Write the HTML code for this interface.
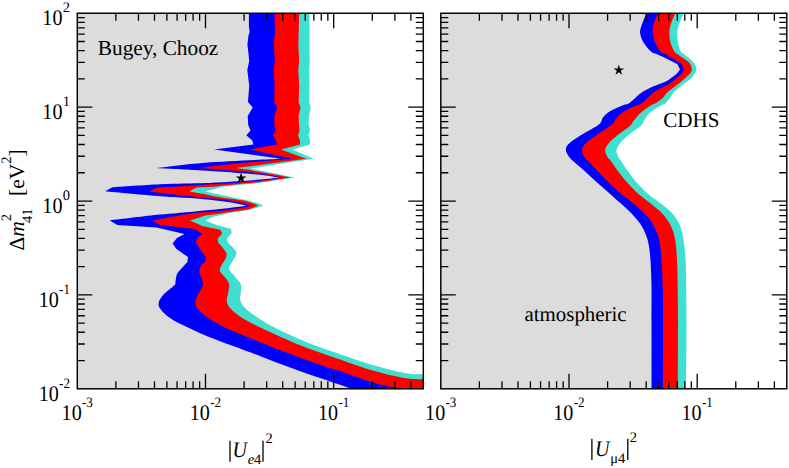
<!DOCTYPE html>
<html><head><meta charset="utf-8"><title>plot</title>
<style>html,body{margin:0;padding:0;background:#fff}svg{display:block}text{text-rendering:geometricPrecision}</style>
</head><body>
<svg width="789" height="468" viewBox="0 0 789 468" font-family="'Liberation Serif', serif" fill="#000">
<rect width="789" height="468" fill="#fff"/>
<clipPath id="cl"><rect x="77.3" y="13.2" width="346.0" height="375.6"/></clipPath>
<g clip-path="url(#cl)" shape-rendering="geometricPrecision">
<path d="M309.5 13.0L309.5 44.6L309.7 61.0L309.2 70.0L309.5 85.0L309.2 102.0L310.8 107.6L309.0 116.0L308.7 125.0L310.0 130.1L308.5 135.3L310.3 140.4L310.0 144.5L292.3 149.6L313.5 158.8L250.2 168.6L294.6 177.5C288.8 178.4 269.1 181.6 260.0 182.8C250.9 184.1 246.2 184.3 240.0 185.0C233.8 185.7 225.5 186.4 222.6 186.7L205.4 191.6C209.7 192.5 223.3 195.5 231.0 197.1C238.7 198.7 246.1 200.0 251.5 201.4C256.9 202.8 261.4 204.8 263.4 205.5C261.4 206.1 256.9 208.0 251.5 209.2C246.1 210.4 237.2 211.5 231.0 212.7C224.8 213.9 218.9 215.3 214.6 216.6C210.3 217.9 206.9 219.8 205.4 220.4L215.1 224.6L231.2 229.1L231.5 233.6L226.7 238.7L227.9 242.6L234.4 249.0L236.7 252.8L235.0 257.3L229.9 265.6C229.8 266.3 228.3 267.7 229.2 269.6C230.1 271.6 233.5 274.9 235.4 277.3C237.3 279.7 239.9 281.6 240.8 284.2C241.7 286.8 240.9 290.3 240.8 292.7C240.7 295.1 239.6 296.6 240.0 298.8C240.4 301.0 241.3 303.5 243.1 305.8C244.9 308.1 246.3 309.5 250.8 312.7C255.3 315.9 262.5 321.1 270.0 325.2C277.5 329.3 287.1 333.6 295.6 337.4C304.2 341.2 312.8 344.6 321.3 347.8C329.9 351.0 337.7 353.3 346.9 356.4C356.1 359.4 366.8 363.3 376.4 366.1C386.0 368.9 396.7 371.6 404.6 373.0C412.5 374.4 420.4 374.2 423.6 374.4L429.6 374.4 L429.6 391.8 L77.3 391.8 L77.3 13.2 Z" fill="#40e0d0"/>
<path d="M299.2 13.0L298.3 44.6L299.2 61.0L298.2 70.0L299.2 85.0L298.6 102.0L300.5 107.6L298.6 116.0L299.0 125.0L299.5 130.6L298.0 135.3L300.0 140.4L300.0 144.5L281.0 149.6L306.2 158.8L236.0 168.1C240.0 168.7 250.8 170.2 260.0 171.8C269.2 173.4 285.8 176.6 291.0 177.5C285.8 178.2 268.5 180.9 260.0 182.0C251.5 183.1 247.8 183.2 240.0 184.0C232.2 184.8 217.9 186.2 213.5 186.7L196.5 187.4L189.2 191.6L205.4 194.2C207.1 194.6 211.3 195.7 215.6 196.5C219.9 197.3 225.7 198.0 231.0 198.8C236.3 199.6 242.8 200.3 247.4 201.4C252.0 202.5 256.5 204.8 258.3 205.5C256.5 206.2 252.0 208.5 247.4 209.6C242.8 210.7 236.3 211.1 231.0 211.9C225.7 212.7 219.9 213.6 215.6 214.2C211.3 214.8 207.1 215.2 205.4 215.4L190.1 220.4L202.3 225.9L220.3 229.7L222.2 233.6L217.7 238.7L218.3 242.6L224.1 249.6L226.7 253.5L226.0 257.9L220.9 266.3C220.8 267.1 219.1 269.1 220.0 271.2C220.9 273.3 224.7 276.5 226.2 278.8C227.7 281.1 228.9 282.3 229.2 285.0C229.4 287.7 228.1 292.2 227.7 295.0C227.3 297.8 226.4 299.6 226.9 301.9C227.4 304.2 228.6 306.4 230.8 308.8C233.0 311.2 236.7 314.2 240.0 316.5C243.3 318.8 245.8 320.2 250.8 322.8C255.8 325.4 262.5 328.6 270.0 332.0C277.5 335.4 287.1 339.9 295.6 343.4C304.2 346.9 312.8 350.0 321.3 353.1C329.9 356.2 337.7 358.8 346.9 361.9C356.1 365.0 366.8 368.8 376.4 371.5C386.0 374.2 396.7 376.7 404.6 378.0C412.5 379.3 420.4 379.2 423.6 379.4L429.6 379.4 L429.6 391.8 L77.3 391.8 L77.3 13.2 Z" fill="#ff0000"/>
<path d="M274.7 13.0L274.7 26.2L275.1 31.9L274.1 38.8L273.8 44.6L274.9 61.0L273.6 70.0L274.6 85.0L274.2 102.0L277.2 107.6L274.2 116.0L274.4 125.0L275.4 130.6L273.0 135.3L275.9 140.4L276.9 144.5L250.0 149.6L292.3 158.8C283.6 159.5 255.7 161.7 240.0 163.2C224.3 164.7 205.0 167.2 198.0 168.0C204.2 168.4 224.7 169.8 235.0 170.7C245.3 171.6 252.0 172.4 260.0 173.5C268.0 174.6 279.2 176.8 283.0 177.5C279.2 178.0 268.8 179.8 260.0 180.7C251.2 181.6 239.2 182.5 230.0 183.2C220.8 183.9 214.4 184.1 205.0 184.7C195.6 185.3 181.3 186.2 173.3 186.7C165.3 187.1 159.7 187.3 157.0 187.4L149.3 191.5C156.1 192.3 178.9 195.1 190.0 196.3C201.1 197.5 208.8 198.0 215.6 198.7C222.4 199.4 226.3 199.9 231.0 200.7C235.7 201.5 240.6 202.6 244.0 203.4C247.4 204.2 250.0 205.2 251.2 205.5C250.0 205.8 247.4 206.9 244.0 207.6C240.6 208.3 235.7 208.9 231.0 209.6C226.3 210.2 222.4 210.8 215.6 211.5C208.8 212.2 200.5 212.2 190.0 213.7C179.5 215.2 158.8 219.3 152.5 220.4L160.0 225.0L194.5 228.9L202.3 233.9L197.3 238.1L195.9 242.3L198.7 247.2L205.8 257.1L205.1 262.1L201.5 265.0C201.1 266.0 199.1 268.6 199.2 271.2C199.3 273.8 201.7 278.0 202.3 280.4C202.9 282.8 203.6 283.4 202.8 285.8C202.0 288.2 198.9 292.3 197.7 295.0C196.5 297.7 195.4 299.6 195.4 301.9C195.4 304.2 195.9 306.4 197.7 308.8C199.5 311.2 202.2 313.7 206.2 316.5C210.2 319.3 216.1 323.0 221.5 325.8C226.9 328.6 230.4 330.1 238.5 333.5C246.6 336.9 260.5 342.5 270.0 346.2C279.5 349.9 287.1 352.7 295.6 355.9C304.2 359.1 312.5 362.2 321.3 365.2C330.1 368.2 339.0 370.9 348.2 373.9C357.4 376.9 367.2 380.9 376.4 383.4C385.6 385.9 398.7 388.1 403.2 389.0L409.2 389.0 L409.2 391.8 L77.3 391.8 L77.3 13.2 Z" fill="#0000ff"/>
<path d="M248.9 13.0L248.9 26.2L249.6 31.9L248.4 36.0L247.4 44.6L248.5 53.8L249.2 61.0L247.3 70.0L249.2 85.4L248.0 102.0L252.8 107.6L247.7 116.0L248.2 125.0L250.6 130.6L246.3 135.3L252.3 140.4L253.3 144.5L214.2 149.4L281.0 158.8C268.3 159.5 225.9 161.1 205.0 162.7C184.1 164.2 163.7 167.2 155.4 168.1C162.5 168.5 184.6 169.5 197.9 170.3C211.2 171.1 224.7 171.9 235.0 172.7C245.3 173.4 252.6 174.0 260.0 174.8C267.4 175.6 276.1 177.1 279.3 177.5C276.1 177.8 268.2 178.9 260.0 179.6C251.8 180.3 239.2 181.1 230.0 181.7C220.8 182.3 216.7 182.6 205.0 183.0C193.3 183.4 175.4 183.6 160.0 184.3C144.6 185.0 120.3 186.8 112.4 187.3L105.2 191.3C114.3 192.1 145.9 195.2 160.0 196.3C174.1 197.4 180.7 197.4 190.0 198.1C199.3 198.8 208.8 199.7 215.6 200.4C222.4 201.1 226.7 201.7 231.0 202.4C235.3 203.1 238.7 203.9 241.3 204.4C243.9 204.9 245.7 205.3 246.6 205.5C245.7 205.7 243.9 206.2 241.3 206.6C238.7 207.0 235.3 207.3 231.0 207.8C226.7 208.3 222.4 208.9 215.6 209.6C208.8 210.3 199.3 211.1 190.0 211.9C180.7 212.7 173.4 213.2 160.0 214.6C146.6 216.0 118.2 219.4 109.8 220.4L117.4 225.0L156.4 227.5L184.6 233.9L176.9 238.1L172.6 243.4L176.2 248.7L188.0 257.1L187.4 262.1L180.5 269.5C179.9 270.3 177.8 272.1 176.9 274.2C176.1 276.3 175.8 280.1 175.4 281.9C175.0 283.7 176.4 283.1 174.6 285.0C172.8 286.9 167.0 291.2 164.6 293.5C162.2 295.8 161.3 297.4 160.3 299.0C159.3 300.6 158.8 301.6 158.7 303.0C158.5 304.4 158.3 305.6 159.4 307.5C160.5 309.4 163.1 312.4 165.5 314.5C167.9 316.6 169.6 318.0 173.8 320.4C178.0 322.8 185.2 326.1 190.8 328.8C196.5 331.5 200.2 333.5 207.7 336.5C215.2 339.5 225.5 343.1 235.9 347.0C246.3 350.9 260.1 356.1 270.0 359.9C279.9 363.6 287.3 366.5 295.6 369.5C303.9 372.5 310.5 374.8 320.0 378.0C329.5 381.2 347.0 387.2 352.4 389.0L358.4 389.0 L358.4 391.8 L77.3 391.8 L77.3 13.2 Z" fill="#dcdcdc"/>
</g>
<clipPath id="cr"><rect x="440.8" y="13.2" width="346.0" height="375.6"/></clipPath>
<g clip-path="url(#cr)" shape-rendering="geometricPrecision">
<path d="M683.7 13.0C683.0 14.8 680.3 20.8 679.2 24.0C678.1 27.2 677.5 29.4 677.3 32.4C677.1 35.4 677.4 38.9 677.9 42.0C678.4 45.1 679.6 49.0 680.5 50.9C681.4 52.9 682.0 52.4 683.5 53.7C685.0 55.0 687.9 57.1 689.7 58.7C691.5 60.3 693.2 61.6 694.3 63.3C695.4 65.0 696.3 67.4 696.4 69.1C696.5 70.8 695.7 71.8 694.8 73.3C693.9 74.8 693.3 76.3 691.2 78.2C689.1 80.1 684.9 82.7 682.1 84.9C679.3 87.2 676.4 89.6 674.4 91.8C672.4 94.0 671.4 96.0 669.9 98.0C668.4 99.9 666.8 102.3 665.4 103.5C664.0 104.7 664.1 103.8 661.5 105.3C658.9 106.8 652.8 110.3 650.0 112.7C647.2 115.1 646.1 117.4 644.6 119.6C643.1 121.8 643.5 123.2 640.8 125.8C638.1 128.4 632.0 132.1 628.5 135.0C625.0 137.9 622.0 140.9 620.0 143.5C618.0 146.1 616.8 148.1 616.5 150.4C616.2 152.7 617.7 155.5 618.5 157.3C619.3 159.1 619.8 159.0 621.3 161.2C622.8 163.4 625.0 167.1 627.4 170.4C629.8 173.7 632.9 177.9 635.6 181.2C638.3 184.4 641.5 187.6 643.8 189.9C646.1 192.2 646.6 192.9 649.5 195.2C652.4 197.5 657.6 200.8 661.3 203.7C665.0 206.6 668.9 209.7 671.5 212.4C674.1 215.1 675.7 217.5 677.2 220.1C678.8 222.7 679.8 225.2 680.8 227.8C681.8 230.5 682.4 232.6 683.0 236.0C683.6 239.4 684.1 243.1 684.6 248.0C685.1 252.9 685.5 258.6 685.8 265.4C686.1 272.1 686.1 279.1 686.2 288.5C686.3 297.9 686.5 305.2 686.5 322.0C686.5 338.8 686.2 377.8 686.1 389.0L692.1 389.0 L692.1 391.8 L440.8 391.8 L440.8 13.2 Z" fill="#40e0d0"/>
<path d="M675.4 13.0C674.6 14.8 671.9 20.8 670.9 24.0C669.9 27.2 669.5 29.4 669.4 32.4C669.3 35.4 669.5 38.9 670.3 42.0C671.1 45.1 673.0 49.0 674.1 50.9C675.2 52.9 675.2 52.4 676.9 53.7C678.6 55.0 682.0 57.1 684.1 58.7C686.2 60.3 688.4 61.5 689.7 63.3C691.0 65.1 691.8 67.7 691.8 69.4C691.8 71.2 690.8 72.3 689.7 73.8C688.6 75.3 687.2 76.3 685.1 78.2C683.0 80.1 679.8 82.7 676.9 84.9C674.0 87.2 670.2 89.6 667.9 91.8C665.5 94.0 664.7 96.2 662.8 98.0C660.9 99.8 658.3 101.5 656.4 102.7C654.5 103.9 654.1 103.4 651.5 105.1C648.9 106.8 643.6 110.3 640.8 112.7C638.0 115.1 636.4 117.4 634.6 119.6C632.8 121.8 632.8 123.2 630.0 125.8C627.2 128.4 621.3 132.1 617.7 135.0C614.1 137.9 610.6 140.9 608.5 143.5C606.4 146.1 605.2 148.1 605.1 150.4C605.0 152.7 606.7 155.5 607.7 157.3C608.7 159.1 608.7 158.2 611.0 161.2C613.3 164.2 617.9 171.2 621.3 175.5C624.7 179.8 628.3 183.9 631.5 187.3C634.7 190.7 637.2 193.0 640.5 195.7C643.8 198.4 647.5 200.9 651.0 203.7C654.5 206.5 658.6 209.7 661.3 212.4C664.0 215.1 665.6 217.4 667.4 220.1C669.2 222.8 670.9 226.0 672.1 228.8C673.3 231.6 673.9 233.9 674.6 237.1C675.3 240.3 675.8 243.3 676.2 248.0C676.6 252.7 677.0 258.6 677.2 265.4C677.5 272.1 677.6 279.1 677.7 288.5C677.8 297.9 678.0 305.2 678.0 322.0C678.0 338.8 677.9 377.8 677.9 389.0L683.9 389.0 L683.9 391.8 L440.8 391.8 L440.8 13.2 Z" fill="#ff0000"/>
<path d="M657.9 13.0C657.2 14.8 654.5 20.8 653.6 24.0C652.7 27.2 652.5 29.4 652.7 32.4C652.9 35.4 653.7 38.9 654.9 42.0C656.1 45.1 658.3 49.0 660.0 50.9C661.7 52.9 663.1 52.5 665.1 53.7C667.1 54.9 669.6 56.6 672.3 58.2C674.9 59.8 679.5 62.4 681.0 63.3L684.2 69.1C683.8 69.8 683.3 71.8 682.0 73.3C680.7 74.8 678.5 76.5 676.4 78.2C674.3 79.9 672.5 81.7 669.2 83.7C665.9 85.8 659.8 88.4 656.4 90.5C653.0 92.7 651.3 94.5 648.7 96.7C646.1 98.9 643.5 102.1 641.0 103.7C638.5 105.3 637.1 104.7 634.0 106.2C630.9 107.7 625.3 110.6 622.3 112.7C619.3 114.8 618.0 116.8 616.2 118.8C614.4 120.8 614.6 122.4 611.5 125.0C608.4 127.6 601.9 131.2 597.7 134.2C593.5 137.1 588.8 140.1 586.2 142.7C583.6 145.3 582.3 147.2 582.0 149.6C581.7 152.0 583.2 155.0 584.6 157.3C586.0 159.6 587.8 160.3 590.5 163.2C593.2 166.1 597.4 170.9 600.8 174.5C604.2 178.1 607.5 181.4 611.0 184.7C614.5 188.0 618.5 191.6 621.8 194.3C625.0 197.1 627.3 198.6 630.5 201.2C633.7 203.8 637.7 207.0 640.8 209.9C643.9 212.8 646.8 215.8 649.0 218.6C651.2 221.4 652.6 223.9 654.1 226.8C655.6 229.7 657.2 232.6 658.2 236.0C659.2 239.4 659.7 242.1 660.3 247.0C660.9 251.9 661.4 258.5 661.8 265.4C662.2 272.3 662.6 279.1 662.8 288.5C663.0 297.9 663.1 305.2 663.1 322.0C663.1 338.8 662.9 377.8 662.9 389.0L668.9 389.0 L668.9 391.8 L440.8 391.8 L440.8 13.2 Z" fill="#0000ff"/>
<path d="M646.5 13.0C645.8 14.8 643.2 20.8 642.1 24.0C641.0 27.2 639.9 29.4 640.1 32.4C640.3 35.4 641.5 38.8 643.3 42.0C645.1 45.2 648.7 49.6 651.0 51.6C653.3 53.6 655.2 53.4 657.0 54.2C658.8 55.0 659.9 55.6 662.0 56.6C664.1 57.6 667.1 58.9 669.7 60.2C672.3 61.5 676.1 63.6 677.4 64.3L680.0 69.4C679.5 70.1 678.4 71.9 676.9 73.4C675.4 74.9 672.4 76.9 670.7 78.2C669.0 79.5 669.9 79.4 666.7 80.9C663.5 82.5 655.6 85.3 651.3 87.3C647.0 89.3 644.6 90.5 641.0 93.1C637.4 95.7 632.4 101.0 629.5 103.0C626.6 105.0 627.0 103.6 623.8 105.0C620.5 106.4 613.5 109.2 610.0 111.2C606.5 113.2 604.9 115.1 603.1 117.3C601.3 119.5 602.4 121.5 599.2 124.2C596.0 126.9 588.7 130.4 583.8 133.5C578.9 136.6 573.0 140.0 570.0 142.7C567.0 145.4 565.8 147.0 565.8 149.6C565.8 152.2 567.6 155.1 570.0 158.0C572.4 160.9 576.9 164.2 580.3 167.3C583.7 170.4 587.1 173.4 590.5 176.5C593.9 179.6 597.4 182.8 600.8 185.8C604.2 188.9 607.8 191.9 611.0 194.8C614.2 197.7 617.0 200.2 620.3 203.1C623.5 206.0 627.4 209.3 630.5 212.4C633.6 215.5 636.5 218.8 638.7 221.7C640.9 224.6 642.3 227.0 643.8 229.9C645.2 232.8 646.4 235.8 647.4 239.1C648.4 242.4 648.9 245.6 649.5 250.0C650.1 254.4 650.5 259.0 650.8 265.4C651.1 271.8 651.4 279.1 651.5 288.5C651.6 297.9 651.5 305.2 651.5 322.0C651.5 338.8 651.6 377.8 651.6 389.0L657.6 389.0 L657.6 391.8 L440.8 391.8 L440.8 13.2 Z" fill="#dcdcdc"/>
</g>
<path d="M115.89 388.80v-7.5 M115.89 13.25v7.5 M138.47 388.80v-7.5 M138.47 13.25v7.5 M154.48 388.80v-7.5 M154.48 13.25v7.5 M166.91 388.80v-7.5 M166.91 13.25v7.5 M177.06 388.80v-7.5 M177.06 13.25v7.5 M185.64 388.80v-7.5 M185.64 13.25v7.5 M193.08 388.80v-7.5 M193.08 13.25v7.5 M199.63 388.80v-7.5 M199.63 13.25v7.5 M205.50 388.80v-15.0 M205.50 13.25v15.0 M244.09 388.80v-7.5 M244.09 13.25v7.5 M266.67 388.80v-7.5 M266.67 13.25v7.5 M282.68 388.80v-7.5 M282.68 13.25v7.5 M295.11 388.80v-7.5 M295.11 13.25v7.5 M305.26 388.80v-7.5 M305.26 13.25v7.5 M313.84 388.80v-7.5 M313.84 13.25v7.5 M321.28 388.80v-7.5 M321.28 13.25v7.5 M327.83 388.80v-7.5 M327.83 13.25v7.5 M333.70 388.80v-15.0 M333.70 13.25v15.0 M372.29 388.80v-7.5 M372.29 13.25v7.5 M394.87 388.80v-7.5 M394.87 13.25v7.5 M410.88 388.80v-7.5 M410.88 13.25v7.5 M77.30 360.54h7.5 M423.30 360.54h-7.5 M77.30 344.00h7.5 M423.30 344.00h-7.5 M77.30 332.27h7.5 M423.30 332.27h-7.5 M77.30 323.18h7.5 M423.30 323.18h-7.5 M77.30 315.74h7.5 M423.30 315.74h-7.5 M77.30 309.46h7.5 M423.30 309.46h-7.5 M77.30 304.01h7.5 M423.30 304.01h-7.5 M77.30 299.21h7.5 M423.30 299.21h-7.5 M77.30 294.91h15.0 M423.30 294.91h-15.0 M77.30 266.65h7.5 M423.30 266.65h-7.5 M77.30 250.12h7.5 M423.30 250.12h-7.5 M77.30 238.39h7.5 M423.30 238.39h-7.5 M77.30 229.29h7.5 M423.30 229.29h-7.5 M77.30 221.85h7.5 M423.30 221.85h-7.5 M77.30 215.57h7.5 M423.30 215.57h-7.5 M77.30 210.12h7.5 M423.30 210.12h-7.5 M77.30 205.32h7.5 M423.30 205.32h-7.5 M77.30 201.03h15.0 M423.30 201.03h-15.0 M77.30 172.76h7.5 M423.30 172.76h-7.5 M77.30 156.23h7.5 M423.30 156.23h-7.5 M77.30 144.50h7.5 M423.30 144.50h-7.5 M77.30 135.40h7.5 M423.30 135.40h-7.5 M77.30 127.97h7.5 M423.30 127.97h-7.5 M77.30 121.68h7.5 M423.30 121.68h-7.5 M77.30 116.24h7.5 M423.30 116.24h-7.5 M77.30 111.43h7.5 M423.30 111.43h-7.5 M77.30 107.14h15.0 M423.30 107.14h-15.0 M77.30 78.87h7.5 M423.30 78.87h-7.5 M77.30 62.34h7.5 M423.30 62.34h-7.5 M77.30 50.61h7.5 M423.30 50.61h-7.5 M77.30 41.51h7.5 M423.30 41.51h-7.5 M77.30 34.08h7.5 M423.30 34.08h-7.5 M77.30 27.79h7.5 M423.30 27.79h-7.5 M77.30 22.35h7.5 M423.30 22.35h-7.5 M77.30 17.55h7.5 M423.30 17.55h-7.5 " stroke="#000" stroke-width="1.3" fill="none"/>
<rect x="77.30" y="13.25" width="346.00" height="375.55" fill="none" stroke="#000" stroke-width="1.45"/>
<path d="M479.39 388.80v-7.5 M479.39 13.25v7.5 M501.97 388.80v-7.5 M501.97 13.25v7.5 M517.98 388.80v-7.5 M517.98 13.25v7.5 M530.41 388.80v-7.5 M530.41 13.25v7.5 M540.56 388.80v-7.5 M540.56 13.25v7.5 M549.14 388.80v-7.5 M549.14 13.25v7.5 M556.58 388.80v-7.5 M556.58 13.25v7.5 M563.13 388.80v-7.5 M563.13 13.25v7.5 M569.00 388.80v-15.0 M569.00 13.25v15.0 M607.59 388.80v-7.5 M607.59 13.25v7.5 M630.17 388.80v-7.5 M630.17 13.25v7.5 M646.18 388.80v-7.5 M646.18 13.25v7.5 M658.61 388.80v-7.5 M658.61 13.25v7.5 M668.76 388.80v-7.5 M668.76 13.25v7.5 M677.34 388.80v-7.5 M677.34 13.25v7.5 M684.78 388.80v-7.5 M684.78 13.25v7.5 M691.33 388.80v-7.5 M691.33 13.25v7.5 M697.20 388.80v-15.0 M697.20 13.25v15.0 M735.79 388.80v-7.5 M735.79 13.25v7.5 M758.37 388.80v-7.5 M758.37 13.25v7.5 M774.38 388.80v-7.5 M774.38 13.25v7.5 M440.80 360.54h7.5 M786.80 360.54h-7.5 M440.80 344.00h7.5 M786.80 344.00h-7.5 M440.80 332.27h7.5 M786.80 332.27h-7.5 M440.80 323.18h7.5 M786.80 323.18h-7.5 M440.80 315.74h7.5 M786.80 315.74h-7.5 M440.80 309.46h7.5 M786.80 309.46h-7.5 M440.80 304.01h7.5 M786.80 304.01h-7.5 M440.80 299.21h7.5 M786.80 299.21h-7.5 M440.80 294.91h15.0 M786.80 294.91h-15.0 M440.80 266.65h7.5 M786.80 266.65h-7.5 M440.80 250.12h7.5 M786.80 250.12h-7.5 M440.80 238.39h7.5 M786.80 238.39h-7.5 M440.80 229.29h7.5 M786.80 229.29h-7.5 M440.80 221.85h7.5 M786.80 221.85h-7.5 M440.80 215.57h7.5 M786.80 215.57h-7.5 M440.80 210.12h7.5 M786.80 210.12h-7.5 M440.80 205.32h7.5 M786.80 205.32h-7.5 M440.80 201.03h15.0 M786.80 201.03h-15.0 M440.80 172.76h7.5 M786.80 172.76h-7.5 M440.80 156.23h7.5 M786.80 156.23h-7.5 M440.80 144.50h7.5 M786.80 144.50h-7.5 M440.80 135.40h7.5 M786.80 135.40h-7.5 M440.80 127.97h7.5 M786.80 127.97h-7.5 M440.80 121.68h7.5 M786.80 121.68h-7.5 M440.80 116.24h7.5 M786.80 116.24h-7.5 M440.80 111.43h7.5 M786.80 111.43h-7.5 M440.80 107.14h15.0 M786.80 107.14h-15.0 M440.80 78.87h7.5 M786.80 78.87h-7.5 M440.80 62.34h7.5 M786.80 62.34h-7.5 M440.80 50.61h7.5 M786.80 50.61h-7.5 M440.80 41.51h7.5 M786.80 41.51h-7.5 M440.80 34.08h7.5 M786.80 34.08h-7.5 M440.80 27.79h7.5 M786.80 27.79h-7.5 M440.80 22.35h7.5 M786.80 22.35h-7.5 M440.80 17.55h7.5 M786.80 17.55h-7.5 " stroke="#000" stroke-width="1.3" fill="none"/>
<rect x="440.80" y="13.25" width="346.00" height="375.55" fill="none" stroke="#000" stroke-width="1.45"/>
<polygon points="241.10,172.60 242.36,176.47 246.43,176.47 243.13,178.86 244.39,182.73 241.10,180.34 237.81,182.73 239.07,178.86 235.77,176.47 239.84,176.47" fill="#000"/>
<polygon points="618.80,64.60 620.06,68.47 624.13,68.47 620.83,70.86 622.09,74.73 618.80,72.34 615.51,74.73 616.77,70.86 613.47,68.47 617.54,68.47" fill="#000"/>
<text x="62.75" y="11.95" font-size="14.5">2</text>
<text transform="translate(42.35,24.95) scale(0.9,1)" font-size="22.3">10</text>
<text x="62.75" y="105.84" font-size="14.5">1</text>
<text transform="translate(42.35,118.84) scale(0.9,1)" font-size="22.3">10</text>
<text x="62.75" y="199.72" font-size="14.5">0</text>
<text transform="translate(42.35,212.72) scale(0.9,1)" font-size="22.3">10</text>
<text transform="translate(59.10,293.61) scale(0.9,1)" font-size="14.5">-1</text>
<text transform="translate(38.70,306.61) scale(0.9,1)" font-size="22.3">10</text>
<text transform="translate(59.10,387.50) scale(0.9,1)" font-size="14.5">-2</text>
<text transform="translate(38.70,400.50) scale(0.9,1)" font-size="22.3">10</text>
<text transform="translate(82.00,407.00) scale(0.9,1)" font-size="14.5">-3</text>
<text transform="translate(61.60,420.00) scale(0.9,1)" font-size="22.3">10</text>
<text transform="translate(210.20,407.00) scale(0.9,1)" font-size="14.5">-2</text>
<text transform="translate(189.80,420.00) scale(0.9,1)" font-size="22.3">10</text>
<text transform="translate(338.40,407.00) scale(0.9,1)" font-size="14.5">-1</text>
<text transform="translate(318.00,420.00) scale(0.9,1)" font-size="22.3">10</text>
<text transform="translate(445.50,407.00) scale(0.9,1)" font-size="14.5">-3</text>
<text transform="translate(425.10,420.00) scale(0.9,1)" font-size="22.3">10</text>
<text transform="translate(573.70,407.00) scale(0.9,1)" font-size="14.5">-2</text>
<text transform="translate(553.30,420.00) scale(0.9,1)" font-size="22.3">10</text>
<text transform="translate(701.90,407.00) scale(0.9,1)" font-size="14.5">-1</text>
<text transform="translate(681.50,420.00) scale(0.9,1)" font-size="22.3">10</text>
<text x="97.8" y="55.2" font-size="21.3">Bugey, Chooz</text>
<text x="663.2" y="127.1" font-size="21.1">CDHS</text>
<text x="524.5" y="320.8" font-size="20.9">atmospheric</text>
<path d="M230.00 440.80V461.70" stroke="#000" stroke-width="1.3" fill="none"/>
<path d="M263.00 440.80V461.70" stroke="#000" stroke-width="1.3" fill="none"/>
<text transform="translate(232.50,456.70) scale(0.900,1)" font-size="22.3" font-style="italic">U</text>
<text x="247.80" y="464.20" font-size="14.5" font-style="italic">e</text>
<text x="254.00" y="464.20" font-size="14.5">4</text>
<text x="265.60" y="443.20" font-size="14.5">2</text>
<path d="M591.90 438.80V459.90" stroke="#000" stroke-width="1.3" fill="none"/>
<path d="M627.80 438.80V459.90" stroke="#000" stroke-width="1.3" fill="none"/>
<text transform="translate(594.90,455.80) scale(0.900,1)" font-size="22.3" font-style="italic">U</text>
<text x="610.30" y="462.70" font-size="14.5">μ4</text>
<text x="629.70" y="442.00" font-size="14.5">2</text>
<g transform="translate(24.0,250.6) rotate(-90)"><text x="0" y="0" font-size="21.5">Δ<tspan font-style="italic">m</tspan><tspan font-size="14.5" dy="-13">2</tspan></text><text x="27.6" y="8.2" font-size="14.5">41</text><text x="54.6" y="0" font-size="21.5">[eV<tspan font-size="14.5" dy="-13">2</tspan><tspan dy="13" font-size="21.5">]</tspan></text></g>
</svg>
</body></html>
